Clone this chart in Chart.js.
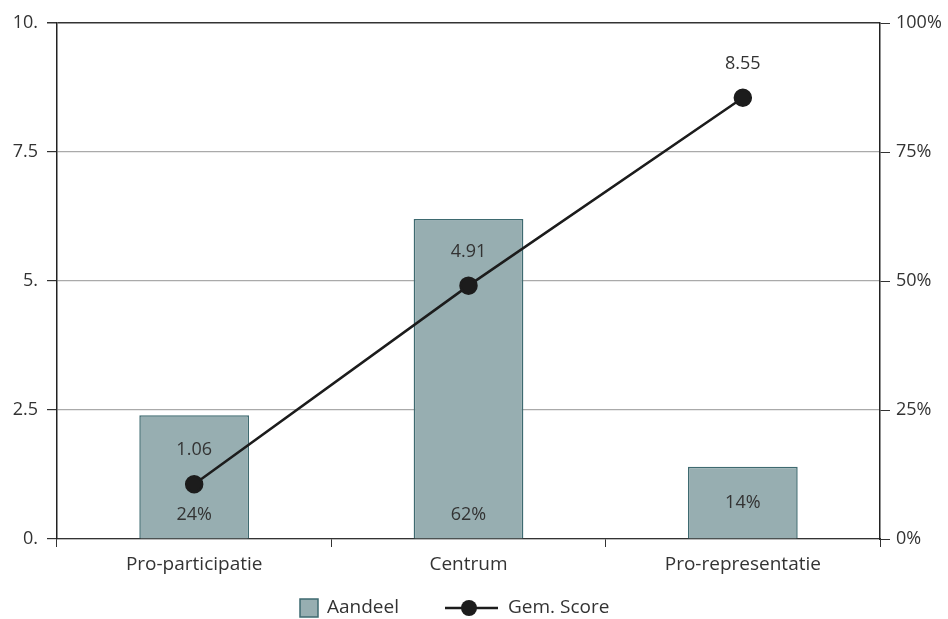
<!DOCTYPE html>
<html>
<head>
<meta charset="utf-8">
<script src="https://cdn.jsdelivr.net/npm/chart.js@4"></script>
<style>
  html, body { margin: 0; padding: 0; background: #fff; }
  #wrap { width: 948px; height: 619px; }
</style>
</head>
<body>
<div id="wrap"><canvas id="chart"></canvas></div>
<script>
const categories = ["Pro-participatie", "Centrum", "Pro-representatie"];
const aandeel = [24, 62, 14];        // percent, right axis
const gemScore = [1.06, 4.91, 8.55]; // left axis
const leftTicks = [0, 2.5, 5, 7.5, 10];
const rightTicks = [0, 25, 50, 75, 100];

const FONT = "'Open Sans', sans-serif";
const TXT = "#333333";
const BAR_FILL = "#97aeb1";
const BAR_LINE = "#3e6a70";
const LINE_COL = "#1c1c1c";

// labels inside bars and above points
const valueLabels = {
  id: "valueLabels",
  afterDatasetsDraw(chart) {
    const ctx = chart.ctx;
    ctx.save();
    ctx.font = "18px " + FONT;
    ctx.fillStyle = TXT;
    ctx.textAlign = "center";
    ctx.textBaseline = "middle";
    chart.getDatasetMeta(0).data.forEach((bar, i) => {
      const h = bar.base - bar.y;
      const y = h < 100 ? (bar.y + bar.base) / 2 : bar.base - 24;
      ctx.fillText(aandeel[i] + "%", bar.x, y);
    });
    chart.getDatasetMeta(1).data.forEach((pt, i) => {
      ctx.fillText(gemScore[i].toFixed(2), pt.x, pt.y - 34);
    });
    ctx.restore();
  }
};

// simple legend at the bottom
const bottomLegend = {
  id: "bottomLegend",
  afterDraw(chart) {
    const ctx = chart.ctx;
    const y = 608;
    ctx.save();
    ctx.font = "19px " + FONT;
    ctx.textBaseline = "middle";
    ctx.textAlign = "left";
    // bar entry
    ctx.fillStyle = BAR_FILL;
    ctx.fillRect(300, y - 9, 18, 18);
    ctx.strokeStyle = BAR_LINE;
    ctx.lineWidth = 1.5;
    ctx.strokeRect(300, y - 9, 18, 18);
    ctx.fillStyle = TXT;
    ctx.fillText(chart.data.datasets[0].label, 327, y);
    // line entry
    ctx.strokeStyle = LINE_COL;
    ctx.lineWidth = 2.5;
    ctx.beginPath();
    ctx.moveTo(445, y);
    ctx.lineTo(498, y);
    ctx.stroke();
    ctx.fillStyle = LINE_COL;
    ctx.beginPath();
    ctx.arc(469, y, 8, 0, Math.PI * 2);
    ctx.fill();
    ctx.fillStyle = TXT;
    ctx.fillText(chart.data.datasets[1].label, 508, y);
    ctx.restore();
  }
};

new Chart(document.getElementById("chart"), {
  data: {
    labels: categories,
    datasets: [
      {
        type: "bar",
        label: "Aandeel",
        data: aandeel,
        yAxisID: "y1",
        backgroundColor: BAR_FILL,
        borderColor: BAR_LINE,
        borderWidth: 1.5,
        categoryPercentage: 1,
        barPercentage: 0.4,
        order: 2
      },
      {
        type: "line",
        label: "Gem. Score",
        data: gemScore,
        yAxisID: "y",
        borderColor: LINE_COL,
        backgroundColor: LINE_COL,
        borderWidth: 2.5,
        pointRadius: 8,
        pointHoverRadius: 8,
        tension: 0,
        order: 1
      }
    ]
  },
  options: {
    responsive: true,
    maintainAspectRatio: false,
    animation: false,
    layout: { padding: { top: 23, bottom: 36, left: 0, right: 0 } },
    plugins: {
      legend: { display: false },
      tooltip: { enabled: false }
    },
    scales: {
      x: {
        offset: true,
        grid: {
          offset: true,
          drawOnChartArea: false,
          drawTicks: true,
          tickLength: 8,
          color: "#333"
        },
        border: { color: "#333", width: 1.2 },
        ticks: { color: TXT, font: { family: FONT, size: 19 }, padding: 6 },
        afterFit(s) { s.height = 44; }
      },
      y: {
        position: "left",
        min: 0,
        max: 10,
        afterBuildTicks(s) { s.ticks = leftTicks.map(v => ({ value: v })); },
        grid: {
          color: ctx => ctx.tick && ctx.tick.value === 10 ? "#333" : "#aaaaaa",
          lineWidth: ctx => ctx.tick && ctx.tick.value === 10 ? 1.5 : 1.2,
          tickColor: "#333",
          tickLength: 10
        },
        border: { color: "#222", width: 1.5 },
        ticks: {
          color: TXT,
          font: { family: FONT, size: 18 },
          padding: 9,
          callback: v => Number.isInteger(v) ? v + "." : String(v)
        },
        afterFit(s) { s.width = 57; }
      },
      y1: {
        position: "right",
        min: 0,
        max: 100,
        afterBuildTicks(s) { s.ticks = rightTicks.map(v => ({ value: v })); },
        grid: {
          drawOnChartArea: false,
          color: "#333",
          tickLength: 10
        },
        border: { color: "#222", width: 1.5 },
        ticks: {
          color: TXT,
          font: { family: FONT, size: 18 },
          padding: 6,
          callback: v => v + "%"
        },
        afterFit(s) { s.width = 68; }
      }
    }
  },
  plugins: [valueLabels, bottomLegend]
});
</script>
</body>
</html>
